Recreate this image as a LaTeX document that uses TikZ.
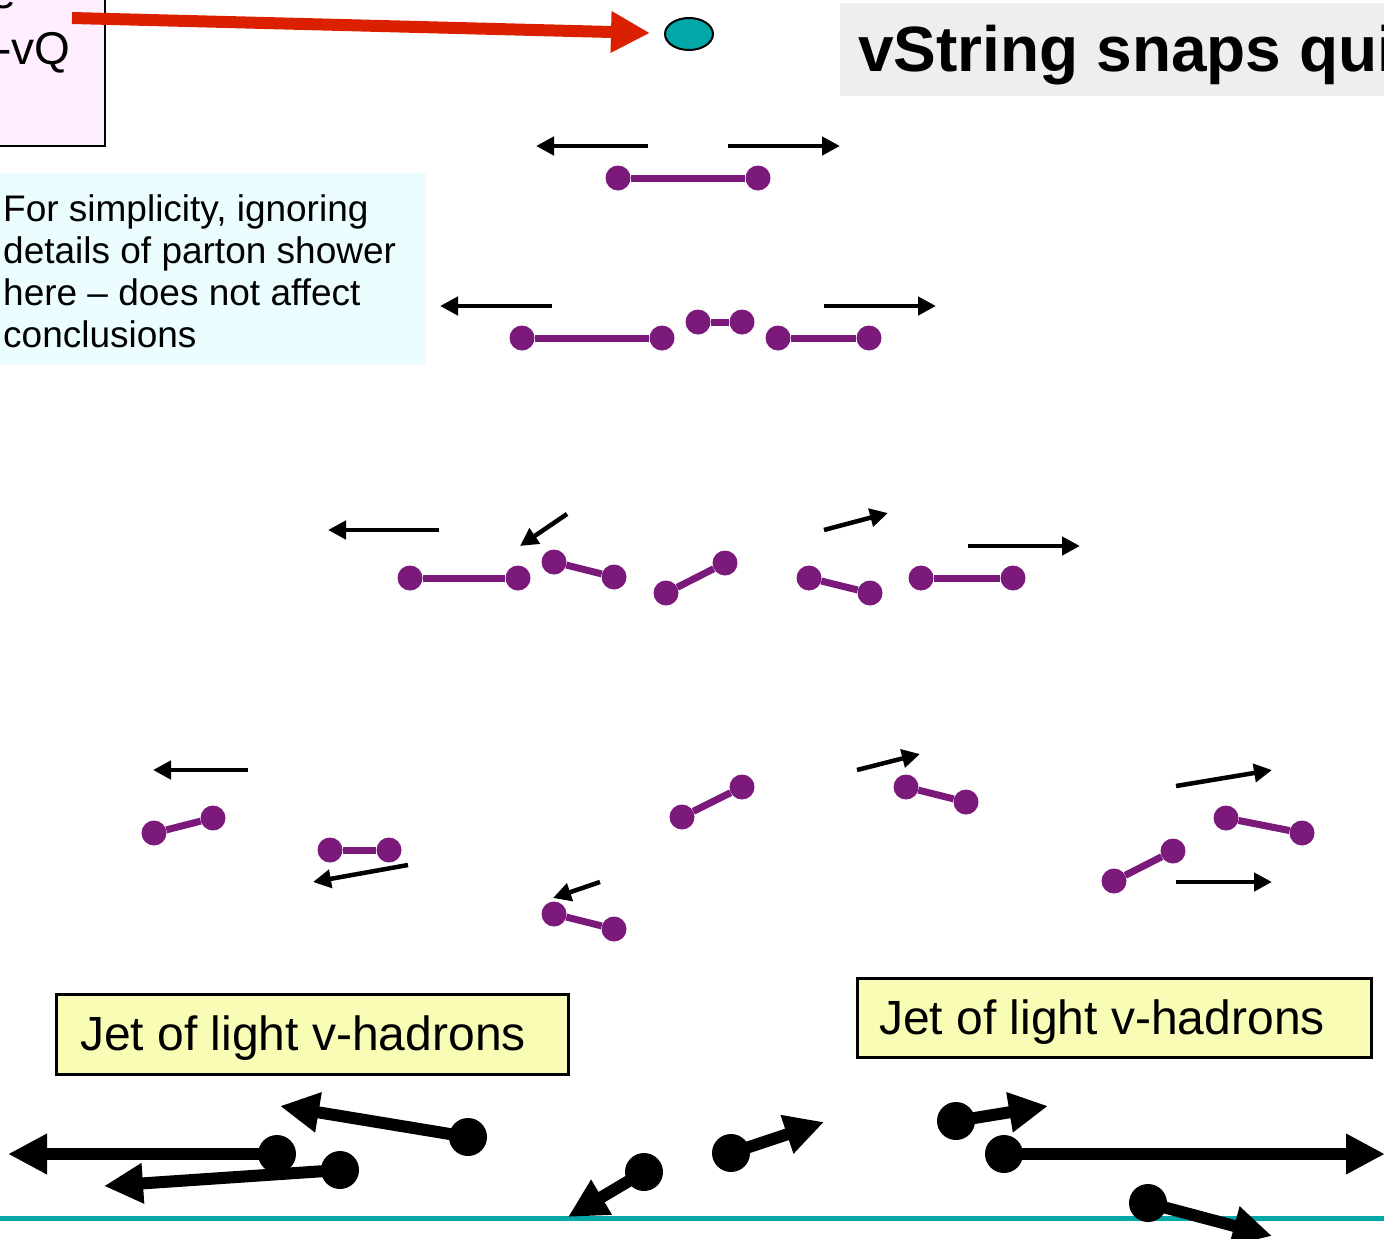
\documentclass[tikz,border=0pt]{standalone}
\usepackage{fontspec}
\setmainfont{Liberation Sans}
\usetikzlibrary{arrows.meta,shapes.geometric}
\definecolor{vpurple}{RGB}{123,26,123}
\definecolor{vteal}{RGB}{0,168,168}
\definecolor{vred}{RGB}{218,32,0}
\definecolor{pinkbg}{RGB}{255,238,255}
\definecolor{cyanbg}{RGB}{236,253,255}
\definecolor{graybg}{RGB}{238,238,238}
\definecolor{jetyellow}{RGB}{248,252,180}
\tikzset{
  pdot/.style={circle, fill=vpurple, minimum size=25pt, inner sep=0pt},
  bdot/.style={circle, fill=black, minimum size=38pt, inner sep=0pt},
  vstring/.style={draw=vpurple, line width=7pt},
  thinarrow/.style={-{Triangle[length=18pt,width=18pt]}, line width=4.5pt, black},
  bigarrow/.style={-{Triangle[length=39pt,width=38pt]}, line width=12pt, black},
  redarrow/.style={-{Triangle[length=39pt,width=39pt]}, line width=12pt, vred},
  jetbox/.style={draw=black, line width=2.5pt, fill=jetyellow, inner sep=0pt, anchor=north west},
  jettext/.style={anchor=base west, inner sep=0pt, font=\fontsize{48}{54}\selectfont},
}
\begin{document}
\begin{tikzpicture}[x=1pt,y=-1pt]
\useasboundingbox (0,0) rectangle (1384,1239);
\clip (0,0) rectangle (1384,1239);

% top-left pink box
\draw[fill=pinkbg, line width=2pt] (-10,-10) rectangle (105,146);
\node[anchor=base west, inner sep=0pt, font=\fontsize{46}{50}\selectfont] (prev) at (-10,9) {e};
\node[anchor=base west, inner sep=0pt, font=\fontsize{46}{50}\selectfont] (vq) at (-4,64) {-vQ};

% title
\fill[graybg] (840,3) rectangle (1390,96);
\node[anchor=base west, inner sep=0pt, font=\fontsize{64}{70}\selectfont\bfseries] (title) at (858,72) {vString snaps qui};

% red arrow and teal blob
\node[ellipse, draw=black, line width=2pt, fill=vteal, minimum width=48pt, minimum height=32pt, inner sep=0pt] (blob) at (689,34) {};
\coordinate (rs) at (72,18);
\coordinate (re) at (650,33);
\draw[redarrow] (rs) -- (re);

% cyan note
\fill[cyanbg] (-5,173) rectangle (426,365);
\node[anchor=north west, inner sep=0pt, align=left, font=\fontsize{37}{42}\selectfont] (note) at (3,194)
  {For simplicity, ignoring\\details of parton shower\\here -- does not affect\\conclusions};

% ---- row 1
\coordinate (a1s) at (648,146); \coordinate (a1e) at (536,146);
\coordinate (a2s) at (728,146); \coordinate (a2e) at (840,146);
\draw[thinarrow] (a1s) -- (a1e);
\draw[thinarrow] (a2s) -- (a2e);
\node[pdot] (s1a) at (618,178) {};
\node[pdot] (s1b) at (758,178) {};
\draw[vstring] (s1a) -- (s1b);

% ---- row 2
\coordinate (b1s) at (552,306); \coordinate (b1e) at (440,306);
\coordinate (b2s) at (824,306); \coordinate (b2e) at (936,306);
\draw[thinarrow] (b1s) -- (b1e);
\draw[thinarrow] (b2s) -- (b2e);
\node[pdot] (s2a) at (522,338) {};
\node[pdot] (s2b) at (662,338) {};
\node[pdot] (s2c) at (698,322) {};
\node[pdot] (s2d) at (742,322) {};
\node[pdot] (s2e) at (778,338) {};
\node[pdot] (s2f) at (869,338) {};
\draw[vstring] (s2a) -- (s2b);
\draw[vstring] (s2c) -- (s2d);
\draw[vstring] (s2e) -- (s2f);

% ---- row 3
\coordinate (c1s) at (439,530); \coordinate (c1e) at (328,530);
\coordinate (c2s) at (567,514); \coordinate (c2e) at (520,546);
\coordinate (c3s) at (824,530); \coordinate (c3e) at (888,513);
\coordinate (c4s) at (968,546); \coordinate (c4e) at (1080,546);
\draw[thinarrow] (c1s) -- (c1e);
\draw[thinarrow] (c2s) -- (c2e);
\draw[thinarrow] (c3s) -- (c3e);
\draw[thinarrow] (c4s) -- (c4e);
\node[pdot] (s3a) at (410,578) {};
\node[pdot] (s3b) at (518,578) {};
\node[pdot] (s3c) at (554,562) {};
\node[pdot] (s3d) at (614,577) {};
\node[pdot] (s3e) at (666,593) {};
\node[pdot] (s3f) at (725,563) {};
\node[pdot] (s3g) at (809,578) {};
\node[pdot] (s3h) at (870,593) {};
\node[pdot] (s3i) at (921,578) {};
\node[pdot] (s3j) at (1013,578) {};
\draw[vstring] (s3a) -- (s3b);
\draw[vstring] (s3c) -- (s3d);
\draw[vstring] (s3e) -- (s3f);
\draw[vstring] (s3g) -- (s3h);
\draw[vstring] (s3i) -- (s3j);

% ---- row 4
\coordinate (d1s) at (248,770); \coordinate (d1e) at (153,770);
\coordinate (d2s) at (408,865); \coordinate (d2e) at (313,882);
\coordinate (d3s) at (600,882); \coordinate (d3e) at (553,898);
\coordinate (d4s) at (857,770); \coordinate (d4e) at (920,754);
\coordinate (d5s) at (1176,786); \coordinate (d5e) at (1272,770);
\coordinate (d6s) at (1176,882); \coordinate (d6e) at (1272,882);
\draw[thinarrow] (d1s) -- (d1e);
\draw[thinarrow] (d2s) -- (d2e);
\draw[thinarrow] (d3s) -- (d3e);
\draw[thinarrow] (d4s) -- (d4e);
\draw[thinarrow] (d5s) -- (d5e);
\draw[thinarrow] (d6s) -- (d6e);
\node[pdot] (s4a) at (154,833) {};
\node[pdot] (s4b) at (213,818) {};
\node[pdot] (s4c) at (330,850) {};
\node[pdot] (s4d) at (389,850) {};
\node[pdot] (s4e) at (554,914) {};
\node[pdot] (s4f) at (614,929) {};
\node[pdot] (s4g) at (682,817) {};
\node[pdot] (s4h) at (742,787) {};
\node[pdot] (s4i) at (906,787) {};
\node[pdot] (s4j) at (966,802) {};
\node[pdot] (s4k) at (1226,818) {};
\node[pdot] (s4l) at (1302,833) {};
\node[pdot] (s4m) at (1114,881) {};
\node[pdot] (s4n) at (1173,851) {};
\draw[vstring] (s4a) -- (s4b);
\draw[vstring] (s4c) -- (s4d);
\draw[vstring] (s4e) -- (s4f);
\draw[vstring] (s4g) -- (s4h);
\draw[vstring] (s4i) -- (s4j);
\draw[vstring] (s4k) -- (s4l);
\draw[vstring] (s4m) -- (s4n);

% ---- jet labels
\node[jetbox, minimum width=512pt, minimum height=80pt] (jetL) at (55,993) {};
\node[jettext] (jetLt) at (80,1050) {Jet of light v-hadrons};
\node[jetbox, minimum width=514pt, minimum height=79pt] (jetR) at (856,977) {};
\node[jettext] (jetRt) at (879,1034) {Jet of light v-hadrons};

% ---- ground line
\coordinate (gl) at (-10,1218); \coordinate (gr) at (1394,1218);
\draw[vteal, line width=5pt] (gl) -- (gr);

% ---- hadrons
\node[bdot] (h1) at (277,1154) {};
\node[bdot] (h2) at (468,1137) {};
\node[bdot] (h3) at (340,1170) {};
\node[bdot] (h4) at (644,1172) {};
\node[bdot] (h5) at (731,1153) {};
\node[bdot] (h6) at (956,1121) {};
\node[bdot] (h7) at (1004,1154) {};
\node[bdot] (h8) at (1148,1203) {};
\coordinate (t1) at (8,1154);
\coordinate (t2) at (280,1106);
\coordinate (t3) at (104,1186);
\coordinate (t4) at (568,1217);
\coordinate (t5) at (824,1122);
\coordinate (t6) at (1048,1106);
\coordinate (t7) at (1385,1154);
\coordinate (t8) at (1272,1236);
\draw[bigarrow] (h1.center) -- (t1);
\draw[bigarrow] (h2.center) -- (t2);
\draw[bigarrow] (h3.center) -- (t3);
\draw[bigarrow] (h4.center) -- (t4);
\draw[bigarrow] (h5.center) -- (t5);
\draw[bigarrow] (h6.center) -- (t6);
\draw[bigarrow] (h7.center) -- (t7);
\draw[bigarrow] (h8.center) -- (t8);
\end{tikzpicture}
\end{document}
